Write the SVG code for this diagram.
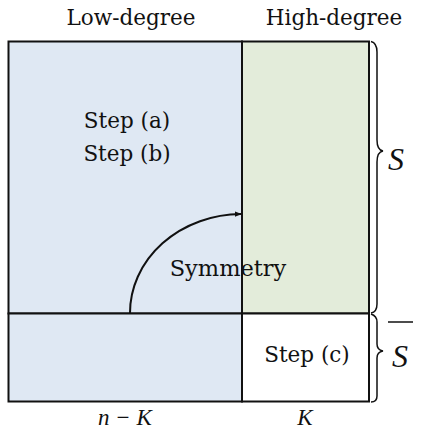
<svg xmlns="http://www.w3.org/2000/svg" width="424" height="433" viewBox="0 0 424 433">
<defs>
<style>
.lbl{font-family:"DejaVu Serif","Liberation Serif",serif;font-size:21.5px;fill:#111;text-anchor:middle}
.math{font-family:"Liberation Serif",serif;font-style:italic;font-size:23px;fill:#111;text-anchor:middle}
.cal{font-family:"Liberation Serif",serif;font-style:italic;font-size:32px;fill:#111;text-anchor:middle}
.cell{stroke:#111;stroke-width:2}
.brace{fill:none;stroke:#111;stroke-width:1.5}
</style>
<marker id="ah" viewBox="0 0 10 10" refX="9" refY="5" markerWidth="7" markerHeight="7" orient="auto" markerUnits="userSpaceOnUse">
<path d="M0,1 L10,5 L0,9 z" fill="#111"/>
</marker>
</defs>
<rect width="424" height="433" fill="#fff"/>
<text class="lbl" x="131" y="25">Low-degree</text>
<text class="lbl" x="334" y="25">High-degree</text>
<g id="low-top">
<rect class="cell" x="8.5" y="41.5" width="233.5" height="272" fill="#dfe8f3"/>
<text class="lbl" x="127" y="128">Step (a)</text>
<text class="lbl" x="127" y="161">Step (b)</text>
</g>
<g id="high-top">
<rect class="cell" x="242" y="41.5" width="127" height="272" fill="#e3ecda"/>
</g>
<g id="low-bottom">
<rect class="cell" x="8.5" y="313.5" width="233.5" height="88" fill="#dfe8f3"/>
</g>
<g id="high-bottom">
<rect class="cell" x="242" y="313.5" width="127" height="88" fill="#ffffff"/>
<text class="lbl" x="307" y="362">Step (c)</text>
</g>
<g id="connectors">
<path d="M130,313 A112,99 0 0 1 241,214" fill="none" stroke="#111" stroke-width="2" marker-end="url(#ah)"/>
</g>
<text class="lbl" x="228" y="276" style="font-size:22.5px">Symmetry</text>
<g id="brace-S">
<path class="brace" d="M371,41.5 Q377,43 377,52 L377,140 Q377,150 383,151 Q377,152 377,162 L377,304 Q377,312 371,313"/>
<text class="cal" x="396" y="170">S</text>
</g>
<g id="brace-Sbar">
<path class="brace" d="M371,314 Q377,316 377,322 L377,344 Q377,350 383,351 Q377,352 377,358 L377,396 Q377,402 371,402"/>
<text class="cal" x="400" y="367">S</text>
<line x1="388" y1="322" x2="413" y2="322" stroke="#111" stroke-width="1.5"/>
</g>
<text class="math" x="125" y="425">n − K</text>
<text class="math" x="305" y="425">K</text>
</svg>
